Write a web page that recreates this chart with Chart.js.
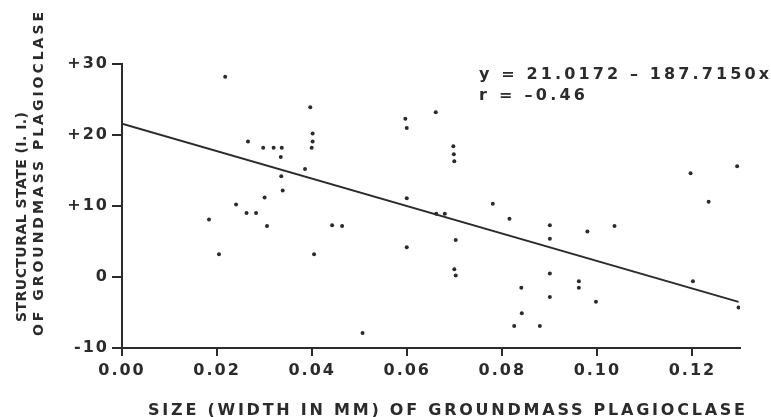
<!DOCTYPE html>
<html>
<head>
<meta charset="utf-8">
<script src="https://cdn.jsdelivr.net/npm/chart.js@4"></script>
<style>
html, body { margin: 0; background: #fff; }
</style>
</head>
<body>
<canvas id="plagChart" width="771" height="417"></canvas>
<script>
// groundmass plagioclase width (mm) vs structural state (I.I.)
const sizeMm = [
  0.0217, 0.0396, 0.0401, 0.0401, 0.0399, 0.0265, 0.0297, 0.0319, 0.0336, 0.0334,
  0.0385, 0.0335, 0.0338, 0.0300, 0.0240, 0.0262, 0.0282, 0.0183, 0.0305, 0.0204,
  0.0404, 0.0660, 0.0596, 0.0599, 0.0697, 0.0698, 0.0699, 0.0599, 0.0780, 0.0661,
  0.0679, 0.0815, 0.0442, 0.0463, 0.0702, 0.0599, 0.0699, 0.0702, 0.0840, 0.0841,
  0.0825, 0.0879, 0.0506, 0.0900, 0.0900, 0.0900, 0.0900, 0.0979, 0.1036, 0.0961,
  0.0961, 0.0997, 0.1196, 0.1294, 0.1234, 0.1201, 0.1297
];
const structState = [
  28.2, 23.9, 20.2, 19.1, 18.2, 19.1, 18.2, 18.2, 18.2, 16.9,
  15.2, 14.2, 12.2, 11.2, 10.2, 9.0, 9.0, 8.1, 7.2, 3.2,
  3.2, 23.2, 22.3, 21.0, 18.4, 17.3, 16.3, 11.1, 10.3, 8.9,
  8.9, 8.2, 7.3, 7.2, 5.2, 4.2, 1.1, 0.2, -1.5, -5.1,
  -6.9, -6.9, -7.9, 7.3, 5.4, 0.5, -2.8, 6.4, 7.2, -0.6,
  -1.5, -3.5, 14.6, 15.6, 10.6, -0.6, -4.3
];
// fitted line, ends
const fitX = [0, 0.1297];
const fitY = [21.6, -3.5];

const xTicks = [0, 0.02, 0.04, 0.06, 0.08, 0.10, 0.12];
const xTickLabels = ['0.00', '0.02', '0.04', '0.06', '0.08', '0.10', '0.12'];
const yTicks = [-10, 0, 10, 20, 30];
const yTickLabels = ['-10', '0', '+10', '+20', '+30'];

const eqLines = ['y = 21.0172 \u2013 187.7150x', 'r = \u20130.46'];
const xTitle = 'SIZE (WIDTH IN MM) OF GROUNDMASS PLAGIOCLASE';
const yTitle = ['STRUCTURAL STATE (I. I.)', 'OF GROUNDMASS PLAGIOCLASE'];

const ink = '#2b2b2b';
const font = '"DejaVu Sans", sans-serif';

// draw text spread to a given width
function spreadText(c, text, x, y, width) {
  c.letterSpacing = '0px';
  const w = c.measureText(text).width;
  const gap = (width - w) / (text.length - 1);
  c.letterSpacing = gap + 'px';
  c.fillText(text, x, y);
}

const lettering = {
  id: 'lettering',
  beforeDraw(chart) {
    chart.ctx.letterSpacing = '2px';
  },
  afterDraw(chart) {
    const c = chart.ctx;
    c.save();
    c.fillStyle = ink;
    c.textAlign = 'left';
    c.textBaseline = 'alphabetic';

    c.font = 'bold 16px ' + font;
    spreadText(c, eqLines[0], 479, 79, 290);
    spreadText(c, eqLines[1], 479, 100, 106);

    c.font = 'bold 16px ' + font;
    spreadText(c, xTitle, 148, 415, 597);

    c.font = 'bold 14px ' + font;
    c.save();
    c.translate(26, 322);
    c.rotate(-Math.PI / 2);
    spreadText(c, yTitle[0], 0, 0, 210);
    c.restore();
    c.save();
    c.translate(43, 336);
    c.rotate(-Math.PI / 2);
    spreadText(c, yTitle[1], 0, 0, 324);
    c.restore();

    c.restore();
  }
};

new Chart(document.getElementById('plagChart'), {
  type: 'scatter',
  data: {
    datasets: [{
      label: 'samples',
      data: sizeMm.map((x, i) => ({ x: x, y: structState[i] })),
      pointRadius: 2,
      pointBackgroundColor: '#2b2b2b',
      pointBorderWidth: 0
    }, {
      label: 'fit',
      type: 'line',
      data: fitX.map((x, i) => ({ x: x, y: fitY[i] })),
      borderColor: '#2b2b2b',
      borderWidth: 2,
      pointRadius: 0,
      fill: false
    }]
  },
  options: {
    responsive: false,
    animation: false,
    layout: { padding: { top: 64, right: 31, left: 0, bottom: 0 } },
    plugins: {
      legend: { display: false },
      tooltip: { enabled: false }
    },
    scales: {
      x: {
        type: 'linear',
        min: 0,
        max: 0.13,
        afterBuildTicks: s => { s.ticks = xTicks.map(v => ({ value: v })); },
        afterFit: s => { s.height = 69; },
        ticks: {
          color: ink,
          font: { family: font, weight: 'bold', size: 16 },
          padding: 5,
          maxRotation: 0,
          callback: (v, i) => xTickLabels[i]
        },
        grid: { drawOnChartArea: false, color: '#2b2b2b', lineWidth: 2, tickLength: 8 },
        border: { color: '#2b2b2b', width: 2 }
      },
      y: {
        min: -10,
        max: 30,
        afterBuildTicks: s => { s.ticks = yTicks.map(v => ({ value: v })); },
        afterFit: s => { s.width = 122; },
        ticks: {
          color: ink,
          font: { family: font, weight: 'bold', size: 16 },
          padding: 3,
          callback: (v, i) => yTickLabels[i]
        },
        grid: { drawOnChartArea: false, color: '#2b2b2b', lineWidth: 2, tickLength: 10 },
        border: { color: '#2b2b2b', width: 2 }
      }
    }
  },
  plugins: [lettering]
});
</script>
</body>
</html>
